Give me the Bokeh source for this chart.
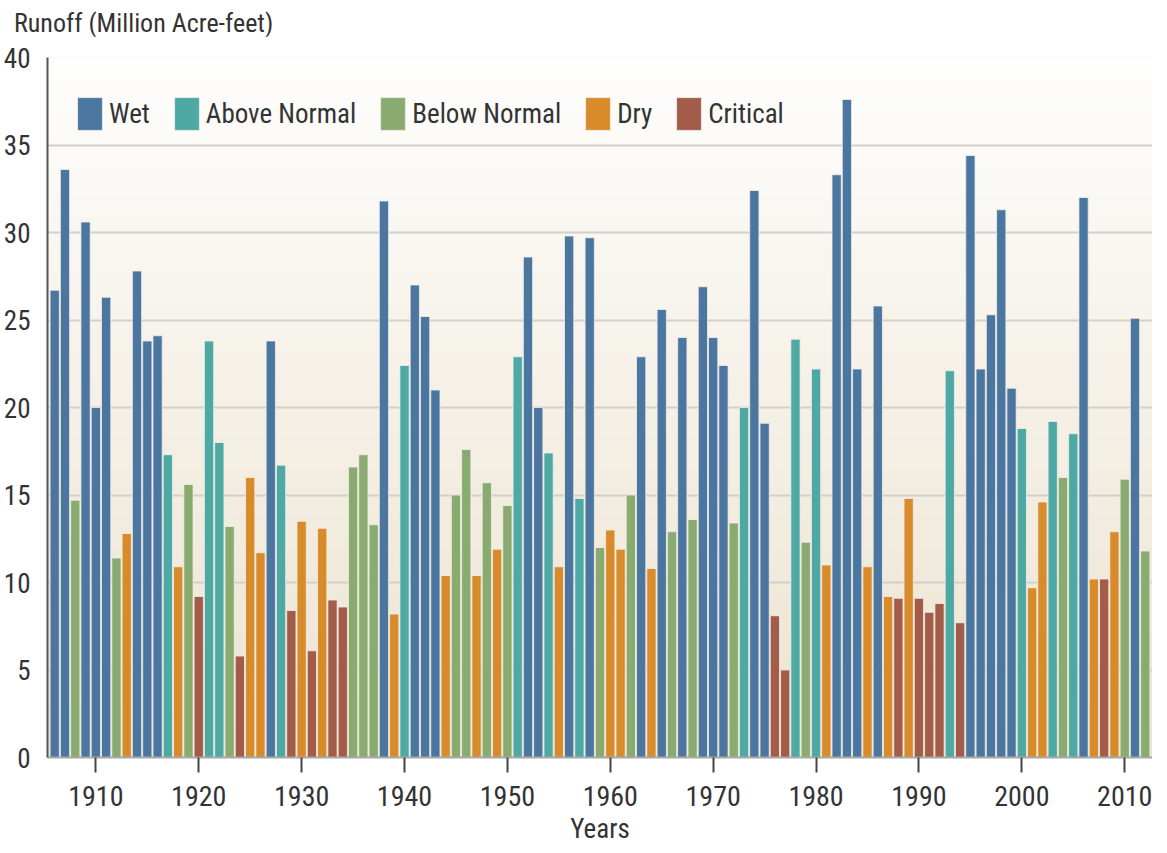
import numpy as np
from bokeh.plotting import figure
from bokeh.models import ColumnDataSource, FixedTicker, Legend, LegendItem, Div
from bokeh.layouts import column
from bokeh.embed import file_html
from bokeh.resources import INLINE

# ---------------- data ----------------
years = list(range(1906, 2013))
runoff = [
    26.7, 33.6, 14.7, 30.6, 20.0, 26.3, 11.4, 12.8, 27.8, 23.8,   # 1906-1915
    24.1, 17.3, 10.9, 15.6, 9.2, 23.8, 18.0, 13.2, 5.8, 16.0,     # 1916-1925
    11.7, 23.8, 16.7, 8.4, 13.5, 6.1, 13.1, 9.0, 8.6, 16.6,       # 1926-1935
    17.3, 13.3, 31.8, 8.2, 22.4, 27.0, 25.2, 21.0, 10.4, 15.0,    # 1936-1945
    17.6, 10.4, 15.7, 11.9, 14.4, 22.9, 28.6, 20.0, 17.4, 10.9,   # 1946-1955
    29.8, 14.8, 29.7, 12.0, 13.0, 11.9, 15.0, 22.9, 10.8, 25.6,   # 1956-1965
    12.9, 24.0, 13.6, 26.9, 24.0, 22.4, 13.4, 20.0, 32.4, 19.1,   # 1966-1975
    8.1, 5.0, 23.9, 12.3, 22.2, 11.0, 33.3, 37.6, 22.2, 10.9,     # 1976-1985
    25.8, 9.2, 9.1, 14.8, 9.1, 8.3, 8.8, 22.1, 7.7, 34.4,         # 1986-1995
    22.2, 25.3, 31.3, 21.1, 18.8, 9.7, 14.6, 19.2, 16.0, 18.5,    # 1996-2005
    32.0, 10.2, 10.2, 12.9, 15.9, 25.1, 11.8,                     # 2006-2012
]
year_type = [
    "W", "W", "BN", "W", "W", "W", "BN", "D", "W", "W",
    "W", "AN", "D", "BN", "C", "AN", "AN", "BN", "C", "D",
    "D", "W", "AN", "C", "D", "C", "D", "C", "C", "BN",
    "BN", "BN", "W", "D", "AN", "W", "W", "W", "D", "BN",
    "BN", "D", "BN", "D", "BN", "AN", "W", "W", "AN", "D",
    "W", "AN", "W", "BN", "D", "D", "BN", "W", "D", "W",
    "BN", "W", "BN", "W", "W", "W", "BN", "AN", "W", "W",
    "C", "C", "AN", "BN", "AN", "D", "W", "W", "W", "D",
    "W", "D", "C", "D", "C", "C", "C", "AN", "C", "W",
    "W", "W", "W", "W", "AN", "D", "D", "AN", "BN", "AN",
    "W", "D", "C", "D", "BN", "W", "BN",
]
type_codes = ["W", "AN", "BN", "D", "C"]
type_names = ["Wet", "Above Normal", "Below Normal", "Dry", "Critical"]
type_colors = ["#4a76a0", "#4ea9a4", "#8aab70", "#d88b2b", "#a35c48"]
y_ticks = [0, 5, 10, 15, 20, 25, 30, 35, 40]
x_ticks = [1910, 1920, 1930, 1940, 1950, 1960, 1970, 1980, 1990, 2000, 2010]
y_title = "Runoff (Million Acre-feet)"
x_title = "Years"

FONT = "Roboto Condensed"
TEXT = "#333333"
x_start, x_end = 1905.3, 2012.7

p = figure(frame_width=1105, frame_height=700,
           x_range=(x_start, x_end), y_range=(0, 40),
           output_backend="svg", toolbar_location=None,
           min_border_left=46, min_border_top=21, min_border_right=0, min_border_bottom=0)
p.outline_line_color = None
p.border_fill_color = "white"
p.background_fill_color = "#f4efe5"

# vertical gradient of the plot area background
n = 256
t = np.linspace(0.0, 1.0, n)[:, None]
top_c = np.array([254, 254, 253])
bot_c = np.array([237, 228, 209])
cols = bot_c + (top_c - bot_c) * t
img = np.empty((n, 1), dtype=np.uint32)
view = img.view(dtype=np.uint8).reshape((n, 1, 4))
view[:, :, 0] = cols[:, 0:1].astype(np.uint8)
view[:, :, 1] = cols[:, 1:2].astype(np.uint8)
view[:, :, 2] = cols[:, 2:3].astype(np.uint8)
view[:, :, 3] = 255
p.image_rgba(image=[img], x=x_start, y=0, dw=x_end - x_start, dh=40, level="image")

items = []
for code, name, color in zip(type_codes, type_names, type_colors):
    xs = [yr for yr, ty in zip(years, year_type) if ty == code]
    ts = [v for v, ty in zip(runoff, year_type) if ty == code]
    src = ColumnDataSource(dict(x=xs, top=ts))
    r = p.vbar(x="x", top="top", width=0.9, bottom=0, source=src,
               fill_color=color, line_color="#f3efe8", line_width=1, line_alpha=0.8)
    items.append(LegendItem(label=name, renderers=[r]))

legend = Legend(items=items, orientation="horizontal", location=(27, 623),
                glyph_width=31, glyph_height=41, label_standoff=4, spacing=21,
                padding=0, margin=0, border_line_color=None, background_fill_alpha=0,
                label_text_font=FONT, label_text_font_size="27px",
                label_text_color=TEXT)
p.add_layout(legend)

xa = p.xaxis[0]
xa.ticker = FixedTicker(ticks=x_ticks)
xa.axis_line_color = "#a8a8a8"
xa.axis_line_width = 2
xa.major_tick_line_color = "#444444"
xa.major_tick_line_width = 2
xa.major_tick_out = 15
xa.major_tick_in = 0
xa.minor_tick_line_color = None
xa.major_label_text_font = FONT
xa.major_label_text_font_size = "28px"
xa.major_label_text_color = TEXT
xa.major_label_standoff = 13
xa.axis_label = x_title
xa.axis_label_text_font = FONT
xa.axis_label_text_font_size = "27px"
xa.axis_label_text_font_style = "normal"
xa.axis_label_text_color = TEXT
xa.axis_label_standoff = 4

ya = p.yaxis[0]
ya.ticker = FixedTicker(ticks=y_ticks)
ya.axis_line_color = "#555555"
ya.axis_line_width = 2
ya.major_tick_line_color = None
ya.minor_tick_line_color = None
ya.major_label_text_font = FONT
ya.major_label_text_font_size = "27px"
ya.major_label_text_color = TEXT
ya.major_label_standoff = 11

p.xgrid.grid_line_color = None
p.ygrid.ticker = FixedTicker(ticks=y_ticks)
p.ygrid.grid_line_color = "#d3d0ca"
p.ygrid.grid_line_width = 2

title_div = Div(
    text=('<span style="font-family: \'Roboto Condensed\', sans-serif; font-size: 26px; '
          'color: #333333; line-height: 26px; white-space: nowrap;">' + y_title + '</span>'),
    width=400, height=26, margin=(10, 0, 0, 14),
    styles={"font-family": "'Roboto Condensed', sans-serif", "font-size": "26px",
            "color": TEXT, "line-height": "26px"},
)

layout = column(title_div, p, spacing=0)

open("out.html", "w").write(file_html(layout, INLINE))
